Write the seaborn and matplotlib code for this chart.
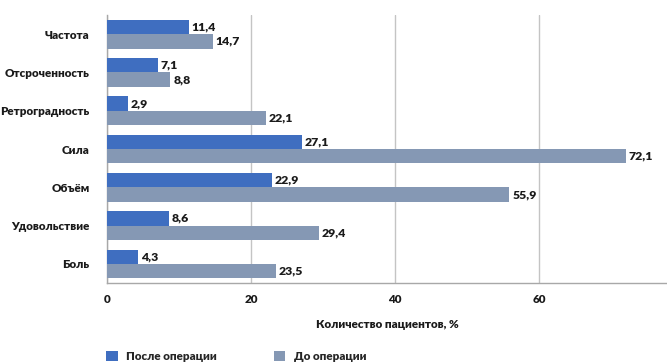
import matplotlib
matplotlib.use("Agg")
import matplotlib.pyplot as plt
import seaborn as sns
import pandas as pd
from matplotlib.ticker import FixedLocator
from matplotlib.patches import Patch

categories = ["Частота", "Отсроченность", "Ретроградность", "Сила", "Объём", "Удовольствие", "Боль"]
after_op = [11.4, 7.1, 2.9, 27.1, 22.9, 8.6, 4.3]
before_op = [14.7, 8.8, 22.1, 72.1, 55.9, 29.4, 23.5]
series_names = ["После операции", "До операции"]
colors = ["#3F6EC0", "#8598B4"]

df = pd.DataFrame({
    "cat": categories * 2,
    "val": after_op + before_op,
    "series": [series_names[0]] * len(categories) + [series_names[1]] * len(categories),
})

sns.set_style("white")
plt.rcParams["font.family"] = ["Lato", "DejaVu Sans"]
W = "heavy"
FS = 8.4
TC = "#1A1A1A"

fig = plt.figure(figsize=(6.67, 3.62), dpi=100)
ax = fig.add_axes([107 / 667, 1 - 283 / 362, 1 - 107 / 667, (283 - 15) / 362])

sns.barplot(data=df, y="cat", x="val", hue="series", orient="h",
            palette=colors, order=categories, hue_order=series_names,
            width=0.75, saturation=1, legend=False, ax=ax, zorder=3, linewidth=0)

ax.set_xlim(0, (667 - 107) / 7.2)
ax.set_ylim(len(categories) - 0.5, -0.5)
ax.xaxis.set_major_locator(FixedLocator([0, 20, 40, 60]))
ax.xaxis.set_minor_locator(FixedLocator([10, 30, 50, 70]))
ax.grid(axis="x", which="major", color="#C4C4C4", linewidth=1, zorder=0)
ax.set_axisbelow(True)

for s in ["top", "right"]:
    ax.spines[s].set_visible(False)
for s in ["left", "bottom"]:
    ax.spines[s].set_color("#A8A8A8")
    ax.spines[s].set_linewidth(1)

ax.tick_params(axis="x", which="major", length=4, direction="in", color="#A8A8A8",
               labelsize=FS, pad=8)
ax.tick_params(axis="x", which="minor", length=3, direction="in", color="#A8A8A8")
ax.tick_params(axis="y", which="major", length=0, labelsize=FS, pad=12.5)
ax.yaxis.set_minor_locator(FixedLocator([i - 0.5 for i in range(len(categories) + 1)]))
ax.tick_params(axis="y", which="minor", length=4, direction="out", color="#A8A8A8")
for lbl in ax.get_xticklabels() + ax.get_yticklabels():
    lbl.set_fontweight(W)
    lbl.set_color(TC)

ax.set_ylabel("")
ax.set_xlabel("Количество пациентов, %", fontsize=FS, fontweight=W,
              color=TC, labelpad=10)

for container in ax.containers:
    labels = [f"{v:.1f}".replace(".", ",") for v in container.datavalues]
    ax.bar_label(container, labels=labels, padding=2, fontsize=FS + 0.4,
                 fontweight=W, color=TC)

handles = [Patch(facecolor=c, edgecolor="none") for c in colors]
fig.legend(handles, series_names, loc="lower left", bbox_to_anchor=(96 / 667, -0.03),
           ncol=2, frameon=False, handlelength=0.95, handleheight=0.95,
           columnspacing=4.9, handletextpad=0.75,
           prop={"weight": W, "size": FS})

fig.savefig("out.png", dpi=100)
